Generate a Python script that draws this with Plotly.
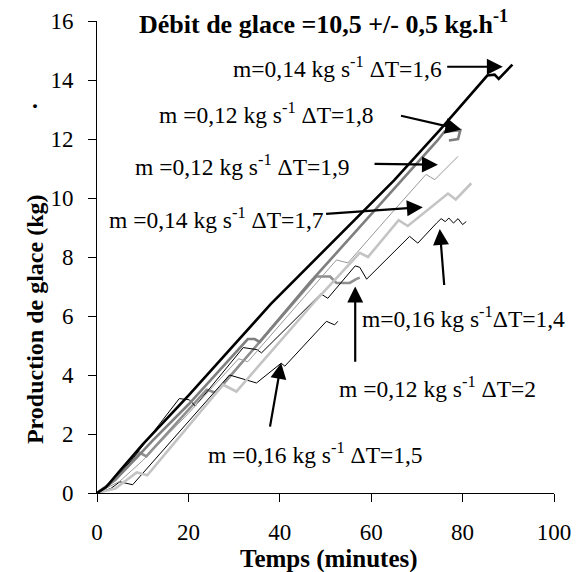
import plotly.graph_objects as go

# ---------------- data (time in minutes, ice production in kg) ----------------
t_a = [0, 2, 5, 10, 20, 38, 65, 75, 85.4, 87, 87.9, 90.9]
v_a = [0, 0.2, 0.75, 1.65, 3.3, 6.4, 10.6, 12.3, 14.15, 14.18, 14.04, 14.52]

t_b = [0, 4, 9, 12, 20, 33, 34.5, 35.6, 46.5, 60, 74.5, 76, 79.5, 79, 77]
v_b = [0, 0.45, 1.25, 1.75, 3.0, 5.22, 5.22, 5.12, 7.12, 9.45, 11.95, 12.25, 12.3, 12.0, 11.95]

t_c = [0, 5, 10, 20, 31, 33, 52.4, 54.9, 65.1, 72, 73.9, 79]
v_c = [0, 0.4, 1.1, 2.7, 4.55, 4.45, 7.9, 7.8, 9.6, 10.8, 10.62, 11.41]

t_d = [0, 4, 8.7, 11, 27.6, 30.5, 48, 57.5, 59.3, 66, 68, 76.8, 78.5, 81.9]
v_d = [0, 0.15, 0.7, 0.6, 3.67, 3.44, 6.55, 8.14, 8.0, 9.25, 9.05, 10.15, 9.95, 10.5]

t_e = [0, 3, 8, 18, 20.2, 21.5, 32, 35, 36, 49, 50.5, 56.5, 57.5, 59, 68.4, 70.2,
       74.3, 75.3, 76.2, 77, 78, 79, 80, 80.8]
v_e = [0, 0.3, 1.2, 3.2, 3.16, 2.95, 4.93, 4.86, 4.75, 6.75, 6.6, 7.7, 7.65, 7.25, 8.7, 8.47,
       9.15, 9.3, 9.2, 9.32, 9.15, 9.3, 9.1, 9.2]

t_f = [0, 4, 9.3, 10.8, 24, 26, 48, 51, 52.4, 55.3, 56.7, 57.5]
v_f = [0, 0.45, 1.37, 1.24, 3.5, 3.4, 7.34, 7.34, 7.12, 7.12, 7.25, 7.3]

t_g = [0, 3, 5, 7.8, 29, 34.9, 40.3, 41.1, 50.2, 52, 52.7]
v_g = [0, 0.15, 0.38, 0.28, 4.0, 3.73, 4.4, 4.3, 5.82, 5.7, 5.82]

labels = [
    "m=0,14 kg s<sup>-1</sup> ΔT=1,6",
    "m =0,12 kg s<sup>-1</sup> ΔT=1,8",
    "m =0,12 kg s<sup>-1</sup> ΔT=1,9",
    "m =0,14 kg s<sup>-1</sup> ΔT=1,7",
    "m=0,16 kg s<sup>-1</sup>ΔT=1,4",
    "m =0,12 kg s<sup>-1</sup> ΔT=2",
    "m =0,16 kg s<sup>-1</sup> ΔT=1,5",
]

x_ticks = [0, 20, 40, 60, 80, 100]
y_ticks = [0, 2, 4, 6, 8, 10, 12, 14, 16]

title_text = "<b>Débit de glace =10,5 +/- 0,5 kg.h<sup>-1</sup></b>"
x_title = "<b>Temps (minutes)</b>"
y_title = "<b>Production de glace (kg)</b>"

# ---------------- figure ----------------
FONT = "Liberation Serif"

series = [
    (t_f, v_f, "#8f8f8f", 2.6),
    (t_g, v_g, "#000000", 1.0),
    (t_e, v_e, "#000000", 1.0),
    (t_d, v_d, "#c4c4c4", 2.6),
    (t_c, v_c, "#999999", 1.0),
    (t_b, v_b, "#7f7f7f", 2.6),
    (t_a, v_a, "#000000", 2.6),
]

fig = go.Figure()
for tx, vy, col, w in series:
    fig.add_trace(go.Scatter(x=tx, y=vy, mode="lines",
                             line=dict(color=col, width=w), showlegend=False,
                             hoverinfo="skip"))

# label positions (center) and arrows (tail -> tip), data coordinates
label_pos = [(52.7, 14.45), (37.1, 12.89), (31.9, 11.13), (26.2, 9.33),
             (80.2, 5.95), (74.6, 3.6), (47.9, 1.37)]
arrows = [((76.3, 14.45), (88.8, 14.45)),
          ((66.2, 12.8), (79.7, 12.32)),
          ((60.4, 11.16), (74.6, 11.13)),
          ((49.8, 9.46), (71.3, 9.69)),
          ((76.0, 7.0), (75.0, 8.95)),
          ((56.5, 4.4), (56.5, 7.0)),
          ((37.8, 2.2), (40.3, 4.41))]

annotations = []
for txt, (lx, ly) in zip(labels, label_pos):
    annotations.append(dict(x=lx, y=ly, xref="x", yref="y", text=txt,
                            showarrow=False, xanchor="center", yanchor="middle",
                            font=dict(family=FONT, size=23.5, color="black")))
for (tail, tip) in arrows:
    annotations.append(dict(x=tip[0], y=tip[1], ax=tail[0], ay=tail[1],
                            xref="x", yref="y", axref="x", ayref="y", text="",
                            showarrow=True, arrowhead=2, arrowsize=1.45,
                            arrowwidth=2.2, arrowcolor="black", standoff=0))

annotations.append(dict(x=0.496, y=0.9975, xref="paper", yref="paper", text=title_text,
                        showarrow=False, xanchor="center", yanchor="middle",
                        font=dict(family=FONT, size=26, color="black")))
annotations.append(dict(x=0.507, y=-0.139, xref="paper", yref="paper", text=x_title,
                        showarrow=False, xanchor="center", yanchor="middle",
                        font=dict(family=FONT, size=25, color="black")))
annotations.append(dict(x=-0.134, y=0.368, xref="paper", yref="paper", text=y_title,
                        showarrow=False, xanchor="center", yanchor="middle", textangle=-90,
                        font=dict(family=FONT, size=24, color="black")))
annotations.append(dict(x=-0.136, y=0.832, xref="paper", yref="paper", text="<b>.</b>",
                        showarrow=False, xanchor="center", yanchor="middle",
                        font=dict(family=FONT, size=24, color="black")))

axis_common = dict(showline=True, linecolor="black", linewidth=1, ticks="outside",
                   ticklen=8, tickcolor="black", tickwidth=1, showgrid=False,
                   zeroline=False, automargin=False,
                   tickfont=dict(family=FONT, size=23, color="black"))

fig.update_layout(
    width=583, height=572,
    margin=dict(l=97, r=29, t=21, b=79, pad=0, autoexpand=False),
    paper_bgcolor="white", plot_bgcolor="white",
    font=dict(family=FONT),
    xaxis=dict(range=[0, 100], tickvals=x_ticks, ticktext=[str(v) for v in x_ticks],
               ticklabelstandoff=10, **axis_common),
    yaxis=dict(range=[0, 16], tickvals=y_ticks, ticktext=[str(v) for v in y_ticks],
               ticklabelstandoff=10, **axis_common),
    annotations=annotations,
    showlegend=False,
)

# remove the default 8px page margin so the figure fills the window exactly
fig.write_html("out.html", config={"displayModeBar": False},
               post_script="document.body.style.margin='0';")
